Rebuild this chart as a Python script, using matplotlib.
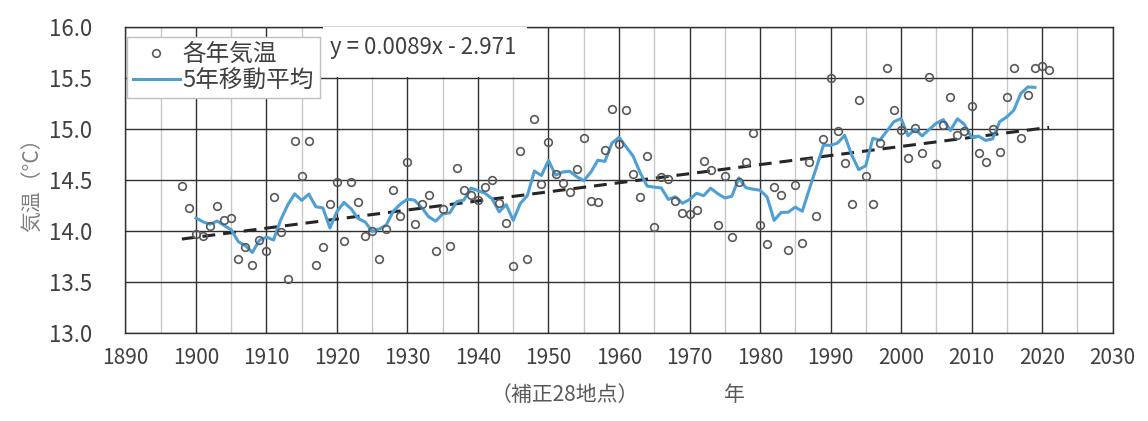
import numpy as np
import pandas as pd
import matplotlib
matplotlib.use("Agg")
import matplotlib.pyplot as plt
from matplotlib.patches import Rectangle
from matplotlib.lines import Line2D

plt.rcParams['font.family'] = ['Noto Sans CJK JP', 'DejaVu Sans']

# Annual mean temperature (補正28地点)
years = list(range(1898, 2022))
temps = [
    14.44, 14.23, 13.97, 13.95, 14.05, 14.25, 14.11, 14.13, 13.73, 13.84,  # 1898-1907
    13.67, 13.91, 13.80, 14.33, 13.99, 13.53, 14.88, 14.54, 14.88, 13.67,  # 1908-1917
    13.84, 14.26, 14.48, 13.90, 14.48, 14.28, 13.95, 14.00, 13.73, 14.02,  # 1918-1927
    14.40, 14.15, 14.68, 14.07, 14.26, 14.35, 13.80, 14.22, 13.85, 14.62,  # 1928-1937
    14.40, 14.35, 14.30, 14.43, 14.50, 14.27, 14.08, 13.66, 14.78, 13.73,  # 1938-1947
    15.10, 14.46, 14.87, 14.56, 14.47, 14.38, 14.61, 14.91, 14.29, 14.28,  # 1948-1957
    14.79, 15.20, 14.85, 15.19, 14.56, 14.33, 14.74, 14.04, 14.53, 14.51,  # 1958-1967
    14.29, 14.18, 14.17, 14.21, 14.69, 14.60, 14.06, 14.54, 13.94, 14.48,  # 1968-1977
    14.68, 14.96, 14.06, 13.87, 14.43, 14.35, 13.81, 14.45, 13.88, 14.68,  # 1978-1987
    14.15, 14.90, 15.50, 14.98, 14.67, 14.26, 15.28, 14.54, 14.26, 14.86,  # 1988-1997
    15.60, 15.19, 14.99, 14.72, 15.01, 14.76, 15.51, 14.66, 15.04, 15.31,  # 1998-2007
    14.94, 14.98, 15.23, 14.76, 14.68, 15.00, 14.77, 15.31, 15.60, 14.91,  # 2008-2017
    15.33, 15.60, 15.62, 15.58,                                            # 2018-2021
]

# linear trend as printed on the chart
trend_slope = 0.0089
trend_icept = -2.971
trend_label = "y = 0.0089x - 2.971"

x_ticks = list(range(1890, 2031, 10))
y_ticks = [13.0, 13.5, 14.0, 14.5, 15.0, 15.5, 16.0]

# 5-year centred moving average
ma = pd.Series(temps, index=years).rolling(5, center=True).mean()
trend_x = np.array([years[0], years[-1]])
trend_y = trend_slope * trend_x + trend_icept

fig = plt.figure(figsize=(11.48, 4.21), dpi=100)
ax = fig.add_axes([0.1093, 0.2090, 0.8598, 0.7269])

blue = '#4e9fd4'
ax.plot(trend_x, trend_y, color='#262626', lw=2.2, dashes=(4.2, 2.6), zorder=3)
ax.plot(ma.index, ma.values, color=blue, lw=2.2, zorder=4)
ax.plot(years, temps, ls='none', marker='o', ms=5.5, mfc='none', mec='#595959', mew=1.2, zorder=5)

ax.set_xlim(1890, 2030)
ax.set_ylim(13.0, 16.0)
ax.set_xticks(x_ticks)
ax.set_xticks(range(1895, 2030, 10), minor=True)
ax.set_yticks(y_ticks)
ax.set_yticklabels([f"{v:.1f}" for v in y_ticks])
ax.grid(which='major', color='#303030', lw=1.0)
ax.grid(which='minor', axis='x', color='#c8c8c8', lw=1.0)
ax.set_axisbelow(True)
ax.tick_params(which='both', length=0, colors='#404040')
ax.tick_params(axis='x', labelsize=15, pad=10)
ax.tick_params(axis='y', labelsize=16, pad=24)
for s in ax.spines.values():
    s.set_color('#303030')
    s.set_linewidth(1.0)

ax.set_ylabel("気温（°C）", fontsize=15, color='#7f7f7f', labelpad=4)
fig.text(0.492, 0.062, "（補正28地点）", fontsize=15, color='#595959', ha='center', va='center')
fig.text(0.640, 0.062, "年", fontsize=15, color='#595959', ha='center', va='center')

# white box behind the trend equation
ax.add_patch(Rectangle((1918.0, 15.51), 28.9, 0.49, facecolor='white', edgecolor='none', zorder=6))
ax.text(1919.0, 15.80, trend_label, fontsize=16, color='#404040', va='center', ha='left', zorder=7)

handles = [
    Line2D([], [], ls='none', marker='o', ms=5.5, mfc='none', mec='#595959', mew=1.2),
    Line2D([], [], color=blue, lw=2.2),
]
leg = ax.legend(handles, ["各年気温", "5年移動平均"], loc='upper left',
                bbox_to_anchor=(0.0015, 0.967), borderaxespad=0, fontsize=17,
                fancybox=False, framealpha=1, edgecolor='#bfbfbf',
                handlelength=2.0, handletextpad=0.1, borderpad=0.25, labelspacing=0.12)
leg.set_zorder(8)
for t in leg.get_texts():
    t.set_color('#404040')

fig.savefig("out.png", dpi=100, facecolor='white')
